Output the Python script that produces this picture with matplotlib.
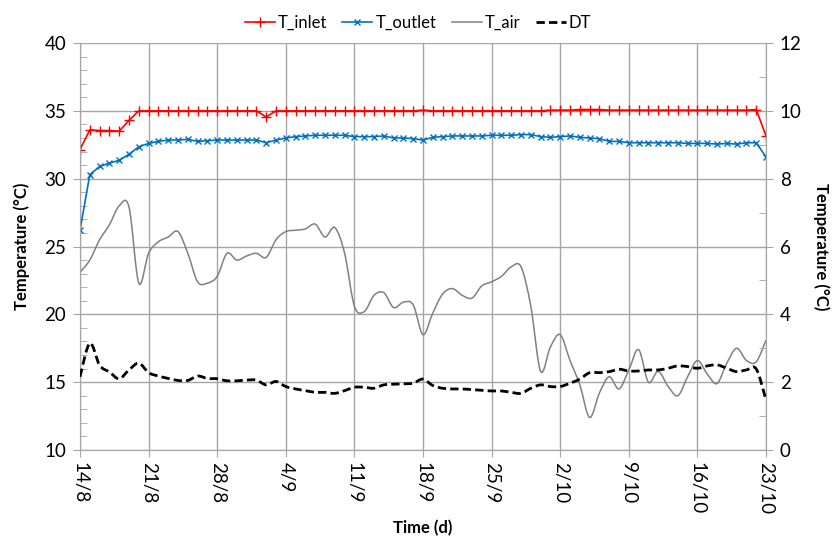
import numpy as np
import pandas as pd
import matplotlib
matplotlib.use('Agg')
import matplotlib.pyplot as plt
import matplotlib.dates as mdates
from matplotlib.path import Path
from matplotlib.patches import PathPatch
from matplotlib.lines import Line2D
from matplotlib.ticker import MultipleLocator

plt.rcParams['font.family'] = ['Lato', 'DejaVu Sans']

days = pd.date_range('2013-08-14', '2013-10-23', freq='D')
tick_labels = ['14/8', '21/8', '28/8', '4/9', '11/9', '18/9', '25/9',
               '2/10', '9/10', '16/10', '23/10']

t_inlet = [32.15, 33.6, 33.55, 33.55, 33.5, 34.3, 35.0, 35.0, 35.0, 35.0,
           35.0, 35.0, 35.0, 35.0, 35.0, 35.0, 35.0, 35.0, 35.0, 34.55,
           35.0, 35.0, 35.0, 35.0, 35.0, 35.0, 35.0, 35.0, 35.0, 35.0,
           35.0, 35.0, 35.0, 35.0, 35.0, 35.05, 35.0, 35.0, 35.0, 35.0,
           35.0, 35.0, 35.0, 35.0, 35.0, 35.0, 35.0, 35.0, 35.05, 35.05,
           35.05, 35.1, 35.1, 35.1, 35.05, 35.05, 35.05, 35.05, 35.05, 35.05,
           35.05, 35.05, 35.05, 35.05, 35.05, 35.05, 35.05, 35.05, 35.05, 35.1,
           33.15]

t_outlet = [26.2, 30.3, 30.9, 31.15, 31.35, 31.8, 32.35, 32.6, 32.75, 32.85,
            32.85, 32.9, 32.75, 32.8, 32.85, 32.85, 32.85, 32.85, 32.85, 32.65,
            32.85, 33.0, 33.1, 33.15, 33.2, 33.2, 33.2, 33.2, 33.1, 33.1,
            33.1, 33.15, 33.0, 33.0, 32.95, 32.85, 33.05, 33.1, 33.15, 33.15,
            33.15, 33.15, 33.2, 33.2, 33.2, 33.25, 33.25, 33.1, 33.05, 33.1,
            33.15, 33.05, 33.0, 32.95, 32.75, 32.75, 32.65, 32.65, 32.65, 32.65,
            32.65, 32.65, 32.6, 32.6, 32.6, 32.55, 32.6, 32.55, 32.65, 32.65,
            31.6]

t_air = [23.1, 24.0, 25.5, 26.6, 28.0, 27.9, 22.3, 24.5, 25.35, 25.7,
         26.1, 24.5, 22.4, 22.3, 22.8, 24.5, 24.0, 24.3, 24.5, 24.2,
         25.5, 26.1, 26.2, 26.3, 26.65, 25.7, 26.4, 24.5, 20.6, 20.2,
         21.4, 21.6, 20.5, 20.9, 20.7, 18.5, 20.1, 21.5, 21.9, 21.4,
         21.2, 22.1, 22.4, 22.8, 23.5, 23.5, 20.6, 15.8, 17.6, 18.5,
         16.6, 14.8, 12.4, 14.2, 15.4, 14.5, 15.9, 17.4, 15.0, 15.8,
         14.7, 14.0, 15.4, 16.6, 15.6, 14.9, 16.4, 17.5, 16.6, 16.5,
         18.1]

dt = [2.16, 3.15, 2.5, 2.3, 2.1, 2.36, 2.56, 2.28, 2.18, 2.11,
      2.05, 2.05, 2.18, 2.11, 2.1, 2.04, 2.04, 2.06, 2.06, 1.92,
      2.02, 1.87, 1.8, 1.75, 1.7, 1.7, 1.67, 1.75, 1.85, 1.85,
      1.82, 1.92, 1.94, 1.95, 1.97, 2.09, 1.9, 1.82, 1.8, 1.8,
      1.78, 1.76, 1.74, 1.74, 1.7, 1.67, 1.82, 1.92, 1.87, 1.87,
      1.97, 2.09, 2.28, 2.28, 2.31, 2.38, 2.33, 2.33, 2.36, 2.36,
      2.41, 2.48, 2.46, 2.41, 2.48, 2.51, 2.41, 2.31, 2.36, 2.39,
      1.47]


def smooth_path(x, y):
    # Catmull-Rom spline turned into cubic Bezier segments
    pts = np.column_stack([x, y])
    n = len(pts)
    verts = [pts[0]]
    codes = [Path.MOVETO]
    for i in range(n - 1):
        p0 = pts[max(i - 1, 0)]
        p3 = pts[min(i + 2, n - 1)]
        c1 = pts[i] + (pts[i + 1] - p0) / 6.0
        c2 = pts[i + 1] - (p3 - pts[i]) / 6.0
        verts += [c1, c2, pts[i + 1]]
        codes += [Path.CURVE4] * 3
    return Path(verts, codes)


xnum = mdates.date2num(days)
grid_c = '#a6a6a6'

fig = plt.figure(figsize=(8.36, 5.38), dpi=100)
ax = fig.add_axes([0.0957, 0.1636, 0.8206, 0.7564])
ax2 = ax.twinx()

ax.plot(days, t_inlet, color='#ff0000', marker='+', ms=7, mew=1, lw=1.2, zorder=4)
ax.plot(days, t_outlet, color='#0070c0', marker='x', ms=4.5, mew=1, lw=1.2, zorder=4)
ax.add_patch(PathPatch(smooth_path(xnum, t_air), fill=False,
                       edgecolor='#808080', lw=1.1, zorder=3))
ax2.add_patch(PathPatch(smooth_path(xnum, dt), fill=False, edgecolor='black',
                        lw=2, linestyle=(0, (3, 1.5)), zorder=3))

ax.set_xlim(xnum[0], xnum[-1])
ax.set_ylim(10, 40)
ax2.set_ylim(0, 12)
ax.yaxis.set_major_locator(MultipleLocator(5))
ax.yaxis.set_minor_locator(MultipleLocator(1))
ax2.yaxis.set_major_locator(MultipleLocator(2))
ax2.yaxis.set_minor_locator(MultipleLocator(1))

ax.set_xticks(xnum[::7])
ax.set_xticklabels(tick_labels, rotation=270, fontsize=13.5)
ax.tick_params(axis='x', length=5, color=grid_c)
ax.tick_params(axis='y', which='major', length=5, color=grid_c, labelsize=13.5, pad=5)
ax.tick_params(axis='y', which='minor', direction='in', length=5, color=grid_c)
ax2.tick_params(axis='y', which='major', length=5, color=grid_c, labelsize=13.5, pad=5)
ax2.tick_params(axis='y', which='minor', direction='in', length=5, color=grid_c)

ax.grid(True, which='major', color=grid_c, lw=1)
for a in (ax, ax2):
    for s in a.spines.values():
        s.set_color(grid_c)
    a.spines['top'].set_visible(False)

ax.set_xlabel('Time (d)', fontsize=12, fontweight='bold', labelpad=4)
ax.set_ylabel('Temperature (°C)', fontsize=12, fontweight='bold', labelpad=10)
ax2.set_ylabel('Temperature (°C)', fontsize=12, fontweight='bold',
               rotation=270, labelpad=20)

handles = [
    Line2D([], [], color='#ff0000', marker='+', ms=7, lw=1.2),
    Line2D([], [], color='#0070c0', marker='x', ms=4.5, lw=1.2),
    Line2D([], [], color='#808080', lw=1.1),
    Line2D([], [], color='black', lw=2, linestyle=(0, (3, 1.5))),
]
fig.legend(handles, ['T_inlet', 'T_outlet', 'T_air', 'DT'], loc='upper center',
           bbox_to_anchor=(0.5, 1.0), ncol=4, frameon=False, fontsize=12,
           handlelength=1.8, handletextpad=0.2, columnspacing=0.9)

fig.savefig('out.png', dpi=100)
